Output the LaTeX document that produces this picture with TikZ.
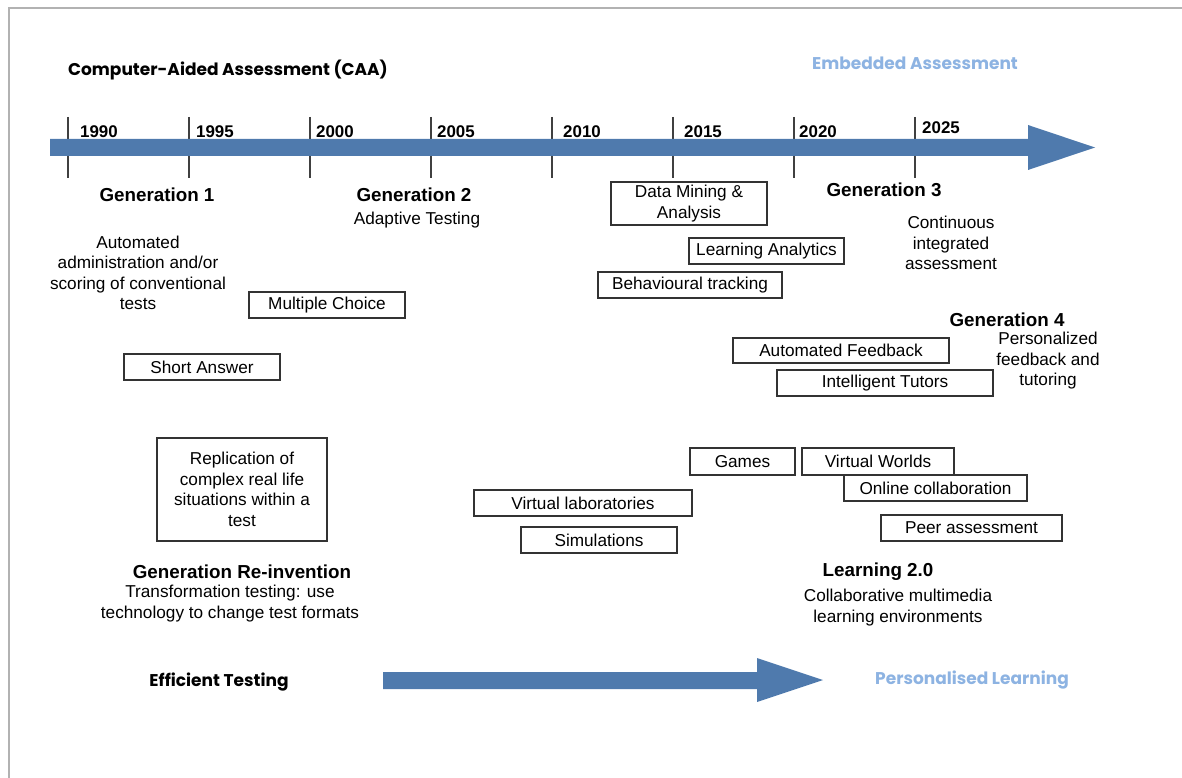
\documentclass[tikz,border=0pt]{standalone}
\usepackage{fontspec}
\usepackage{xcolor}
\setmainfont{Liberation Sans}
\newfontfamily\headfont{Poppins}
\definecolor{timeblue}{RGB}{79,122,173}
\definecolor{lightblue}{RGB}{141,179,226}

\begin{document}
\begin{tikzpicture}[
  x=1pt, y=-1pt,
  every node/.style = {align=center, font=\fontsize{17.2}{20.5}\selectfont},
  generation/.style = {font=\fontsize{18.8}{21}\selectfont\bfseries},
  heading/.style = {inner sep=0pt, font=\headfont\bfseries\fontsize{17}{20}\selectfont},
  entry/.style = {draw=black!80, line width=1.2pt, inner sep=0pt, minimum height=26pt},
  year/.style = {anchor=base west, inner sep=0pt, font=\fontsize{16.9}{18}\selectfont\bfseries}
]
\useasboundingbox (0,0) rectangle (1182,778);

% page frame
\draw[gray!60, line width=1.5pt] (9,778) -- (9,8) -- (1182,8);

% time line
\foreach \yr [count=\i from 0] in {1990,1995,...,2025}
  \draw[black!75, line width=1.3pt] (68+121*\i,117) -- (68+121*\i,178);
\fill[timeblue] (50,139) -- (1028,139) -- (1028,125) -- (1095,147.5)
  -- (1028,170) -- (1028,156) -- (50,156) -- cycle;
\foreach \yr/\dx [count=\i from 0] in {1990/12,1995/7,2000/6,2005/6,2010/11,2015/11,2020/5}
  \node[year] (y\yr) at (68+121*\i+\dx,138) {\yr};
\node[year] (y2025) at (922,134) {2025};

\node[heading, anchor=west] (caa) at (68,70) {Computer-Aided Assessment (CAA)};
\node[heading, text=lightblue] (embedded) at (915,63) {Embedded Assessment};

% generations
\node[generation] (gen1) at (157,195) {Generation 1};
\node (gen1txt) at (138,273) {Automated\\administration and/or\\scoring of conventional\\tests};
\node[generation] (gen2) at (414,195) {Generation 2};
\node (gen2txt) at (417,220) {Adaptive Testing};
\node[generation] (gen3) at (884,190) {Generation 3};
\node (gen3txt) at (951,243) {Continuous\\integrated\\assessment};
\node[generation] (gen4) at (1007,320) {Generation 4};
\node (gen4txt) at (1048,361) {Personalized\\feedback and\\tutoring};
\node[generation] (genre) at (242,572) {Generation Re-invention};
\node (genretxt) at (230,603.5) {Transformation testing: use\\technology to change test formats};
\node[generation] (learn) at (878,572) {Learning 2.0};
\node (learntxt) at (898,607.5) {Collaborative multimedia\\learning environments};

% boxes
\node[entry, minimum width=156pt, minimum height=43pt] (mining) at (689,203.5) {Data Mining \&\\Analysis};
\node[entry, minimum width=155pt] (analytics) at (766.5,251) {Learning Analytics};
\node[entry, minimum width=184pt] (tracking) at (690,285) {Behavioural tracking};
\node[entry, minimum width=156pt] (choice) at (327,305) {Multiple Choice};
\node[entry, minimum width=156pt] (short) at (202,367) {Short Answer};
\node[entry, minimum width=216pt, minimum height=25pt] (feedback) at (841,350.5) {Automated Feedback};
\node[entry, minimum width=216pt] (tutors) at (885,383) {Intelligent Tutors};
\node[entry, minimum width=105pt, minimum height=27pt] (games) at (742.5,461.5) {Games};
\node[entry, minimum width=152pt, minimum height=27pt] (worlds) at (878,461.5) {Virtual Worlds};
\node[entry, minimum width=183pt] (online) at (935.5,488) {Online collaboration};
\node[entry, minimum width=181pt] (peer) at (971.5,528) {Peer assessment};
\node[entry, minimum width=218pt] (labs) at (583,503) {Virtual laboratories};
\node[entry, minimum width=156pt] (sims) at (599,540) {Simulations};
\node[entry, minimum width=170pt, minimum height=103pt] (replica) at (242,489.5)
  {Replication of\\complex real life\\situations within a\\test};

% bottom arrow
\node[heading] (efficient) at (219,682) {Efficient Testing};
\node[heading, text=lightblue] (personal) at (972,680) {Personalised Learning};
\fill[timeblue] (383,672) -- (757,672) -- (757,658) -- (823,680)
  -- (757,702) -- (757,689) -- (383,689) -- cycle;

\end{tikzpicture}
\end{document}
